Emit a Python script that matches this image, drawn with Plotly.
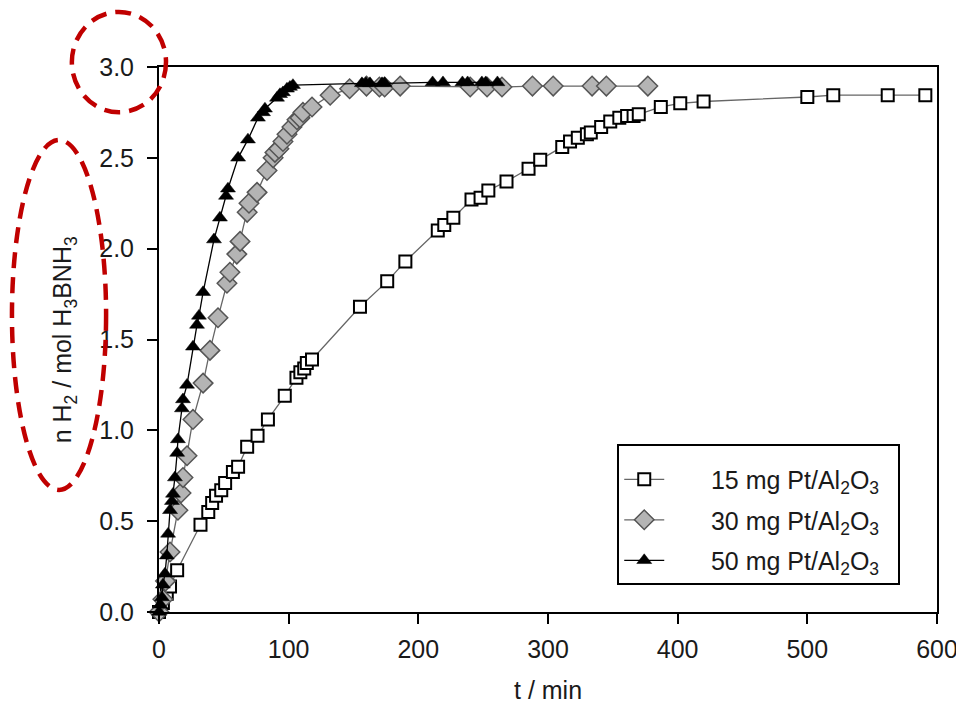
import plotly.graph_objects as go

# ---- data ----
t15 = [0, 3, 6, 8.5, 14, 32, 38, 41, 44, 48, 51, 57, 61, 68, 76, 84, 97, 106, 109, 112, 114, 118,
       155, 176, 190, 215, 220, 227, 241, 248, 254, 268, 285, 294, 311, 317, 323, 330, 333, 341, 348,
       355, 361, 366, 370, 387, 402, 420, 500, 520, 562, 591]
y15 = [0.0, 0.05, 0.10, 0.14, 0.23, 0.48, 0.55, 0.60, 0.64, 0.67, 0.71, 0.77, 0.80, 0.91, 0.97, 1.06,
       1.19, 1.29, 1.32, 1.34, 1.37, 1.39, 1.68, 1.82, 1.93, 2.10, 2.13, 2.17, 2.27, 2.28, 2.32, 2.37,
       2.44, 2.49, 2.56, 2.59, 2.61, 2.63, 2.64, 2.67, 2.70, 2.72, 2.73, 2.73, 2.74, 2.78, 2.80, 2.81,
       2.835, 2.845, 2.845, 2.845]

t30 = [0, 3, 5, 8.5, 14.6, 17, 18.5, 21.6, 26.2, 34, 39.3, 45.5, 52.4, 54.7, 60, 62.5, 68, 69.4,
       75.6, 83.3, 88, 89.4, 92.5, 95.6, 98.7, 102.5, 106.4, 108.7, 111, 118, 132, 147, 160, 170, 174,
       186, 240, 253, 264.5, 288, 304, 334, 345, 377]
y30 = [0.0, 0.07, 0.17, 0.33, 0.56, 0.655, 0.74, 0.86, 1.06, 1.26, 1.44, 1.62, 1.81, 1.87, 1.97,
       2.04, 2.20, 2.25, 2.31, 2.43, 2.50, 2.53, 2.55, 2.59, 2.63, 2.67, 2.71, 2.72, 2.75, 2.78, 2.845,
       2.88, 2.895, 2.89, 2.89, 2.895, 2.89, 2.89, 2.89, 2.895, 2.895, 2.895, 2.895, 2.895]

t50 = [0, 1, 2.3, 3, 4.6, 6, 7, 8.5, 10, 10.8, 12.3, 14, 14.6, 17.7, 18.5, 21.6, 26.2, 29.3, 30.8,
       34, 42.4, 47, 51.7, 53.2, 61, 68.6, 76.3, 80.2, 81.7, 91, 93.3, 95.6, 98.7, 101, 103.3, 156.5,
       159.6, 162.7, 172, 174, 211, 219, 234, 238, 249, 252, 261]
y50 = [0.0, 0.04, 0.08, 0.15, 0.21, 0.31, 0.43, 0.56, 0.61, 0.65, 0.74, 0.875, 0.95, 1.12, 1.17,
       1.25, 1.46, 1.58, 1.63, 1.76, 2.05, 2.17, 2.29, 2.33, 2.50, 2.60, 2.72, 2.75, 2.77, 2.83, 2.85,
       2.86, 2.88, 2.89, 2.90, 2.91, 2.91, 2.91, 2.91, 2.91, 2.915, 2.915, 2.915, 2.915, 2.915, 2.915,
       2.915]

names = ["15 mg Pt/Al<sub>2</sub>O<sub>3</sub>",
         "30 mg Pt/Al<sub>2</sub>O<sub>3</sub>",
         "50 mg Pt/Al<sub>2</sub>O<sub>3</sub>"]
x_ticks = [0, 100, 200, 300, 400, 500, 600]
y_ticks = [0.0, 0.5, 1.0, 1.5, 2.0, 2.5, 3.0]

FONT = "Liberation Sans, Arial, sans-serif"
TXT = "#1a1a1a"
LEAD = "\u00a0" * 6
TRAIL = "\u00a0" * 2

fig = go.Figure()
fig.add_trace(go.Scatter(
    x=t15, y=y15, mode="lines+markers", name=LEAD + names[0] + TRAIL, cliponaxis=False,
    legendgroup="a",
    line=dict(color="#666666", width=1.3),
    marker=dict(symbol="square", size=12, color="white", line=dict(color="black", width=2))))
fig.add_trace(go.Scatter(
    x=t30, y=y30, mode="lines+markers", name=LEAD + names[1] + TRAIL, cliponaxis=False,
    legendgroup="b",
    line=dict(color="#666666", width=1.3),
    marker=dict(symbol="diamond", size=15, color="#b4b4b4", line=dict(color="#555555", width=1.5))))
fig.add_trace(go.Scatter(
    x=t50, y=y50, mode="lines+markers", name=LEAD + names[2] + TRAIL, cliponaxis=False,
    legendgroup="c",
    line=dict(color="black", width=1.3),
    marker=dict(symbol="triangle-up", size=13, color="black", line=dict(color="black", width=0.5))))

# page body has an 8px margin, so the figure is 8px smaller than the window
fig.update_layout(
    width=956, height=700,
    margin=dict(l=151, r=27, t=59, b=96, autoexpand=False),
    paper_bgcolor="white", plot_bgcolor="white",
    font=dict(family=FONT, size=25, color=TXT),
    showlegend=True,
    legend=dict(x=0.589, y=0.308, xanchor="left", yanchor="top",
                bordercolor="black", borderwidth=2, bgcolor="white",
                itemwidth=40, tracegroupgap=5,
                title=dict(text="\u00a0", font=dict(size=8)),
                font=dict(family=FONT, size=25, color=TXT)),
)
fig.update_xaxes(range=[0, 600], tickvals=x_ticks, ticks="outside", ticklen=10, tickwidth=2,
                 tickcolor="black", showline=True, linecolor="black", linewidth=2, mirror=True,
                 showgrid=False, zeroline=False, ticklabelstandoff=4, automargin=False)
fig.update_yaxes(range=[0, 3.0], tickvals=y_ticks, tickformat=".1f", ticks="outside", ticklen=10,
                 tickwidth=2, tickcolor="black", showline=True, linecolor="black", linewidth=2,
                 mirror=True, showgrid=False, zeroline=False, ticklabelstandoff=8, automargin=False)

fig.add_annotation(text="n H<sub>2</sub> / mol H<sub>3</sub>BNH<sub>3</sub>", textangle=-90,
                   xref="paper", yref="paper", x=-0.1223, y=0.5, xanchor="center", yanchor="middle",
                   showarrow=False, font=dict(family=FONT, size=25, color=TXT))
fig.add_annotation(text="t / min", xref="paper", yref="paper", x=0.5, y=-0.143,
                   xanchor="center", yanchor="middle", showarrow=False,
                   font=dict(family=FONT, size=25, color=TXT))

red = "#C00000"
fig.add_shape(type="circle", xref="paper", yref="paper", x0=-0.112, x1=0.009, y0=0.917, y1=1.101,
              line=dict(color=red, width=4.5, dash="16px,9px"))
fig.add_shape(type="circle", xref="paper", yref="paper", x0=-0.189, x1=-0.068, y0=0.224, y1=0.866,
              line=dict(color=red, width=4.5, dash="16px,9px"))

fig.write_html("out.html")
